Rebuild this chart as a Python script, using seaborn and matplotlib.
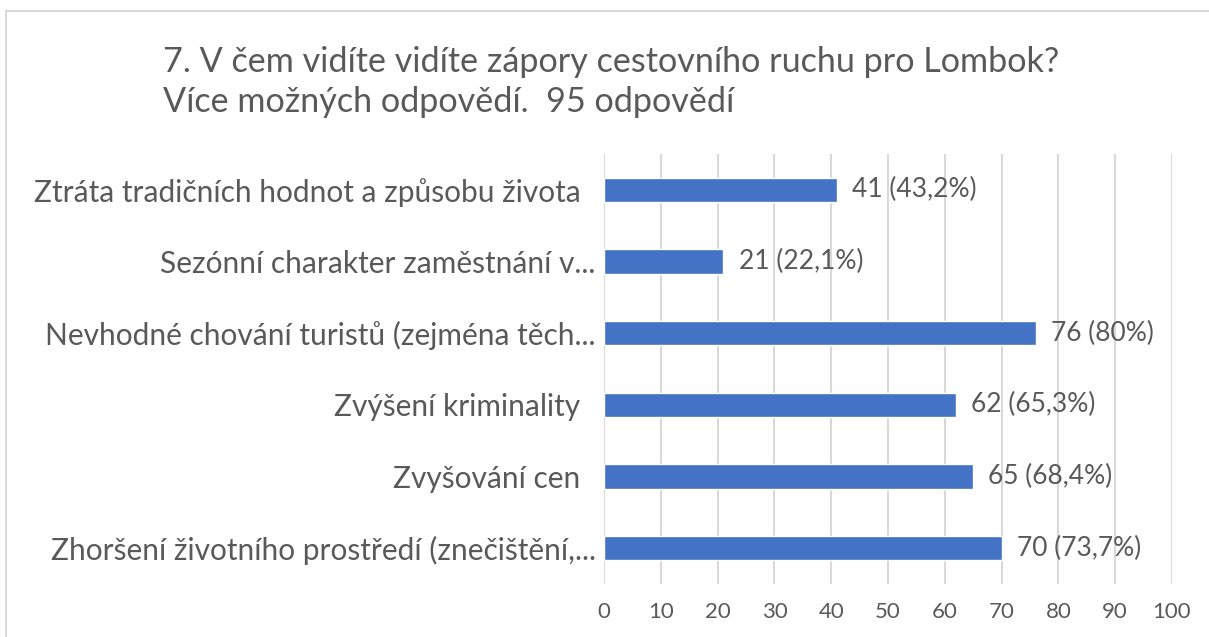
import matplotlib
matplotlib.use("Agg")
import matplotlib.pyplot as plt
import seaborn as sns
import pandas as pd
from matplotlib.patches import Rectangle

categories = [
    "Ztráta tradičních hodnot a způsobu života  ",
    "Sezónní charakter zaměstnání v...",
    "Nevhodné chování turistů (zejména těch...",
    "Zvýšení kriminality  ",
    "Zvyšování cen  ",
    "Zhoršení životního prostředí (znečištění,...",
]
counts = [41, 21, 76, 62, 65, 70]
value_labels = ["41 (43,2%)", "21 (22,1%)", "76 (80%)", "62 (65,3%)", "65 (68,4%)", "70 (73,7%)"]
x_ticks = [0, 10, 20, 30, 40, 50, 60, 70, 80, 90, 100]
title_lines = ["7. V čem vidíte vidíte zápory cestovního ruchu pro Lombok?",
               "Více možných odpovědí.  95 odpovědí"]

sns.set_theme(style="white")
plt.rcParams["font.family"] = ["Lato", "DejaVu Sans"]

TEXT = "#595959"
BAR = "#4472C4"
GRID = "#D9D9D9"

df = pd.DataFrame({"cat": categories, "n": counts})

W, H = 1209, 637
fig = plt.figure(figsize=(W / 100, H / 100), dpi=100)
ax = fig.add_axes([604 / W, 1 - 584 / H, (1172 - 604) / W, (584 - 154) / H])

sns.barplot(data=df, y="cat", x="n", orient="h", color=BAR, width=0.335,
            saturation=1, ax=ax, order=categories)

ax.set_xlim(0, 100)
ax.set_xticks(x_ticks)
ax.set_xticklabels([str(t) for t in x_ticks], fontsize=16, color=TEXT)
ax.set_ylabel("")
ax.set_xlabel("")
ax.tick_params(axis="y", labelsize=21.5, colors=TEXT, length=0, pad=6)
ax.tick_params(axis="x", length=0, pad=13)
for s in ax.spines.values():
    s.set_visible(False)
ax.grid(axis="x", color=GRID, linewidth=1.5)
ax.grid(axis="y", visible=False)
ax.set_axisbelow(True)

for cont in ax.containers:
    ax.bar_label(cont, labels=value_labels, padding=11, fontsize=19, color=TEXT)

fig.text(163 / W, 1 - 62 / H, title_lines[0], fontsize=24.6, color=TEXT, va="center", ha="left")
fig.text(163 / W, 1 - 102 / H, title_lines[1], fontsize=24.6, color=TEXT, va="center", ha="left")

border = Rectangle((6 / W, -0.1), 1.2, 1 - 11 / H + 0.1, transform=fig.transFigure,
                   fill=False, edgecolor="#D9D9D9", linewidth=1.5, clip_on=False)
fig.patches.append(border)

fig.savefig("out.png", dpi=100)
